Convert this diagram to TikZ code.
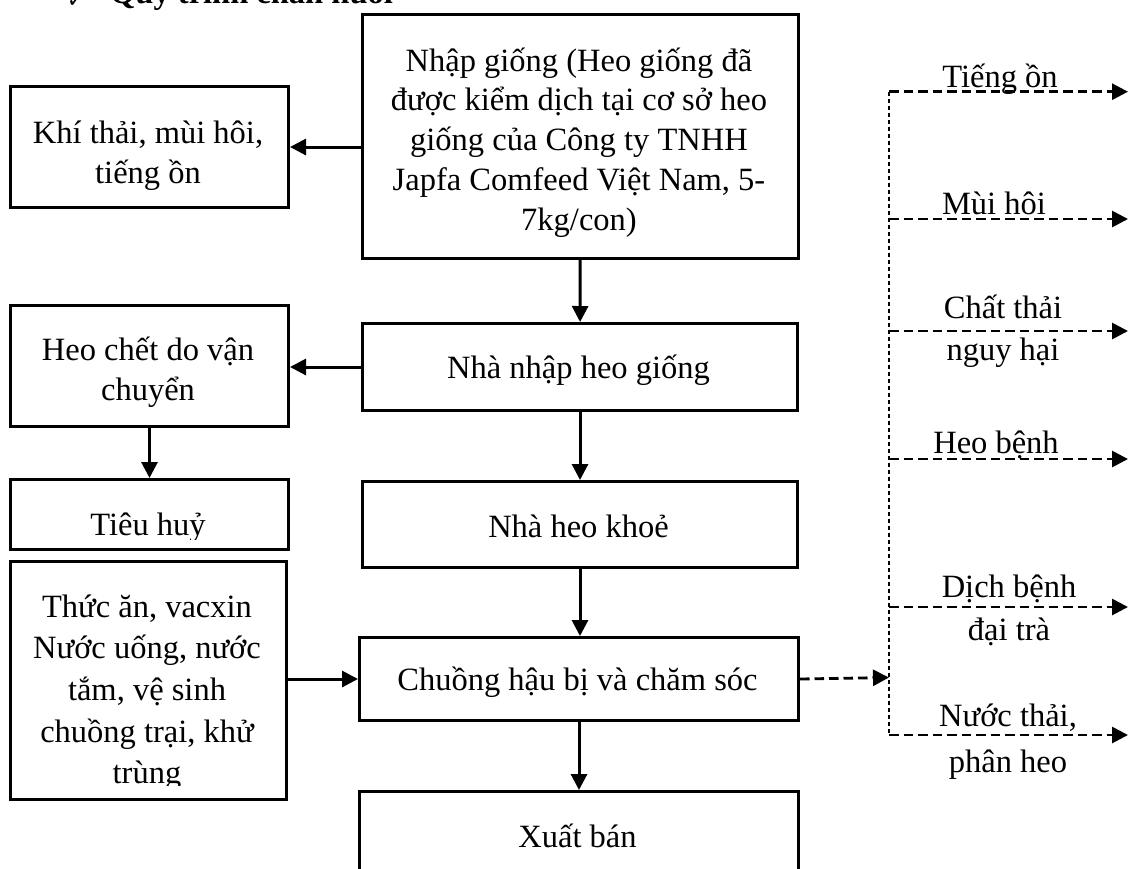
\documentclass[tikz,border=0pt]{standalone}
\usepackage{fontspec}
\setmainfont{Liberation Serif}
\newfontfamily\symfont{DejaVu Sans}
\usetikzlibrary{arrows.meta}
% invisible strut that fixes the top of every first line
\newcommand{\topstrut}{\rule{0pt}{36pt}}

\begin{document}
\begin{tikzpicture}[x=1pt,y=-1pt,
  box/.style={draw=black, line width=3pt, rectangle, inner sep=0pt, anchor=north west},
  txt/.style={inner sep=0pt, anchor=north, align=center, font=\fontsize{32.5}{#1}\selectfont},
  txt/.default=40,
  arr/.style={line width=3pt, -{Triangle[length=16pt,width=16pt]}},
  dline/.style={line width=2.8pt, dash pattern=on 9.5pt off 5pt, -{Triangle[length=16pt,width=16pt]}},
  busline/.style={line width=1.4pt, dash pattern=on 4.5pt off 2.5pt}]
\useasboundingbox (0,0) rectangle (1129,868);

% heading (partly above the page edge)
\node[anchor=base, inner sep=0pt, font=\symfont\fontsize{22}{22}\selectfont] (tick) at (76,7) {✓};
\node[anchor=base west, inner sep=0pt, font=\fontsize{32.5}{39}\selectfont\bfseries] (title) at (110,3.5) {Quy trình chăn nuôi};

% process boxes
\node[box, minimum width=436pt, minimum height=244pt] (nhap) at (361,12.7) {};
\node[box, minimum width=278pt, minimum height=121pt] (khi) at (9,85) {};
\node[box, minimum width=435pt, minimum height=87pt] (nhanhap) at (361,322) {};
\node[box, minimum width=278pt, minimum height=121pt] (chet) at (9,304) {};
\node[box, minimum width=278pt, minimum height=70pt] (tieuhuy) at (9,478) {};
\node[box, minimum width=435pt, minimum height=86pt] (khoe) at (361,480) {};
\node[box, minimum width=276pt, minimum height=238pt] (thucan) at (9,560) {};
\node[box, minimum width=439pt, minimum height=83pt] (chuong) at (358,636) {};
\node[box, minimum width=439pt, minimum height=110pt] (xuat) at (358,790) {};

% box texts
\node[txt=39.7] (tnhap) at (579,35) {\topstrut Nhập giống (Heo giống đã\\ được kiểm dịch tại cơ sở heo\\ giống của Công ty TNHH\\ Japfa Comfeed Việt Nam, 5-\\ 7kg/con)};
\node[txt] (tkhi) at (148,107) {\topstrut Khí thải, mùi hôi,\\ tiếng ồn};
\node[txt] (tnhanhap) at (578.5,342) {\topstrut Nhà nhập heo giống};
\node[txt] (tchet) at (148,324) {\topstrut Heo chết do vận\\ chuyển};
\begin{scope}
  \clip (9,478) rectangle (287,539);
  \node[txt] (ttieuhuy) at (148,499) {\topstrut Tiêu huỷ};
\end{scope}
\node[txt] (tkhoe) at (578.5,501) {\topstrut Nhà heo khoẻ};
\begin{scope}
  \clip (9,560) rectangle (285,785);
  \node[txt=41.6] (tthucan) at (147,581) {\topstrut Thức ăn, vacxin\\ Nước uống, nước\\ tắm, vệ sinh\\ chuồng trại, khử\\ trùng};
\end{scope}
\node[txt] (tchuong) at (577.5,654) {\topstrut Chuồng hậu bị và chăm sóc};
\node[txt] (txuat) at (577.5,811) {\topstrut Xuất bán};

% main flow
\draw[arr] (nhap) -- (nhanhap);
\draw[arr] (nhanhap) -- (khoe);
\draw[arr] (khoe.south) -- (khoe.south |- chuong.north);
\draw[arr] (chuong) -- (xuat);
\draw[arr] (nhap.west |- khi.east) -- (khi.east);
\draw[arr] (nhanhap.west) -- (nhanhap.west -| chet.east);
\draw[arr] (chet) -- (tieuhuy);
\draw[arr] (thucan.east |- chuong.west) -- (chuong.west);

% outputs bus on the right
\coordinate (busin) at (889,677.5);
\coordinate (b1) at (889,91.7);  \coordinate (e1) at (1128,91.7);
\coordinate (b2) at (889,219);   \coordinate (e2) at (1128,219);
\coordinate (b3) at (889,331);   \coordinate (e3) at (1128,331);
\coordinate (b4) at (889,459);   \coordinate (e4) at (1128,459);
\coordinate (b5) at (889,607);   \coordinate (e5) at (1128,607);
\coordinate (b6) at (889,735);   \coordinate (e6) at (1128,735);

\draw[busline] (b1) -- (b6);
\draw[dline] (chuong.east) -- (busin);
\foreach \i in {1,...,6} \draw[dline] (b\i) -- (e\i);

% output labels
\node[txt] (ltieng) at (1000,51) {\topstrut Tiếng ồn};
\node[txt] (lmui) at (994,178) {\topstrut Mùi hôi};
\node[txt=42] (lchat) at (1003,282) {\topstrut Chất thải\\ nguy hại};
\node[txt] (lbenh) at (996,417) {\topstrut Heo bệnh};
\node[txt=43] (ldich) at (1009,561) {\topstrut Dịch bệnh\\ đại trà};
\node[txt=46] (lnuoc) at (1008,690) {\topstrut Nước thải,\\ phân heo};
\end{tikzpicture}
\end{document}
